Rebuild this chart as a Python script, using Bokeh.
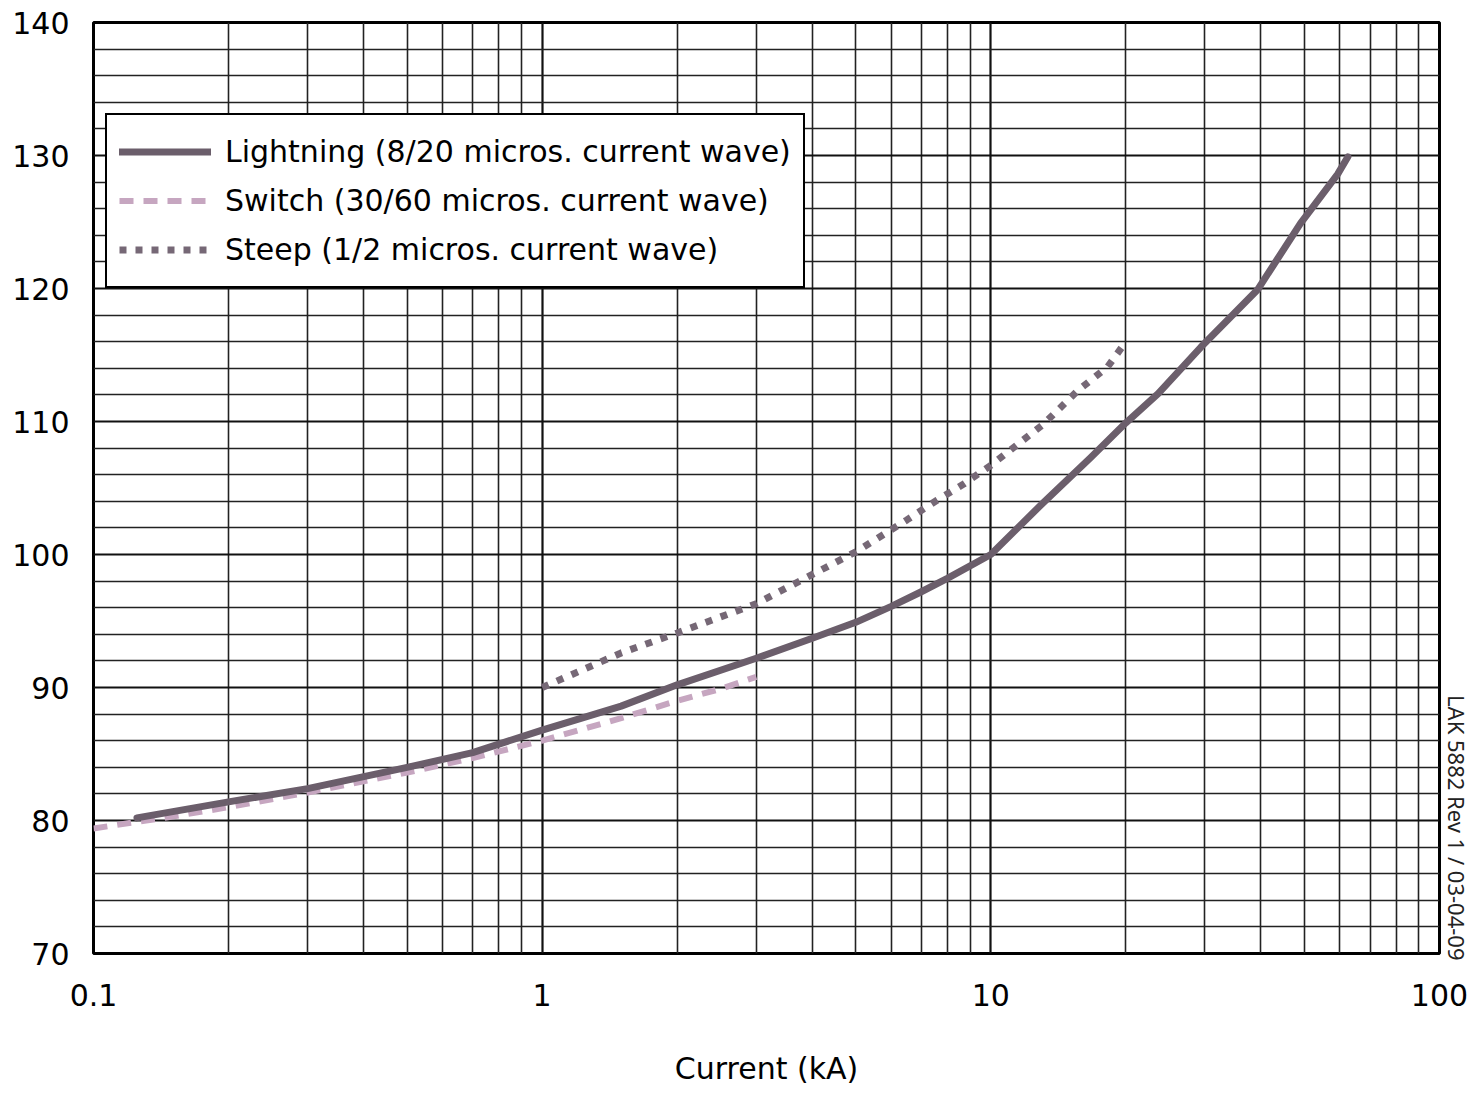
from bokeh.plotting import figure
from bokeh.models import FixedTicker, Legend, LegendItem, Title
from bokeh.embed import file_html
from bokeh.resources import INLINE

# ---- data ----
lightning_x = [0.125, 0.2, 0.3, 0.5, 0.7, 1, 1.5, 2, 3, 4, 5, 6, 7, 8, 10,
               13, 16.7, 20, 23.6, 29.4, 34.8, 39.3, 49, 59.3, 62.5]
lightning_y = [80.2, 81.4, 82.4, 84.0, 85.1, 86.8, 88.6, 90.2, 92.2, 93.7, 94.9, 96.1, 97.2, 98.2, 100.0,
               103.8, 107.3, 109.9, 112.1, 115.6, 118.1, 119.9, 124.9, 128.6, 129.9]

switch_x = [0.1, 0.15, 0.2, 0.3, 0.5, 0.7, 1, 1.5, 2, 2.5, 3]
switch_y = [79.4, 80.3, 81.0, 82.1, 83.6, 84.7, 86.0, 87.7, 89.0, 89.9, 90.8]

steep_x = [1, 1.5, 2, 3, 5, 6.5, 7.6, 8.7, 10, 13.1, 15.6, 18.2, 20]
steep_y = [90.0, 92.6, 94.1, 96.3, 100.2, 102.6, 104.1, 105.3, 106.7, 109.8, 112.3, 114.1, 116.0]

x_ticks = [0.1, 1, 10, 100]
x_tick_labels = ["0.1", "1", "10", "100"]
y_ticks = [70, 80, 90, 100, 110, 120, 130, 140]
y_tick_labels = ["70", "80", "90", "100", "110", "120", "130", "140"]

series_names = ["Lightning (8/20 micros. current wave)",
                "Switch (30/60 micros. current wave)",
                "Steep (1/2 micros. current wave)"]
note_text = "LAK 5882 Rev 1 / 03-04-09"
x_title = "Current (kA)"

FONT = "DejaVu Sans"

x_minor = []
for d in [0.1, 1, 10]:
    x_minor += [d * k for k in range(2, 10)]
y_minor = [v for v in range(70, 141, 2) if v % 10 != 0]

p = figure(frame_width=1346, frame_height=931,
           x_axis_type="log", x_range=(0.1, 100), y_range=(70, 140),
           min_border_left=93, min_border_right=30, min_border_top=22, min_border_bottom=140,
           output_backend="svg", toolbar_location=None,
           background_fill_color="white", border_fill_color="white")

p.outline_line_color = "black"
p.outline_line_width = 3
p.outline_line_alpha = 1.0

p.xaxis.ticker = FixedTicker(ticks=x_ticks, minor_ticks=x_minor)
p.yaxis.ticker = FixedTicker(ticks=y_ticks, minor_ticks=y_minor)
p.xaxis.major_label_overrides = {t: l for t, l in zip(x_ticks, x_tick_labels)}
p.yaxis.major_label_overrides = {t: l for t, l in zip(y_ticks, y_tick_labels)}

for ax in (p.xaxis, p.yaxis):
    ax.axis_line_color = None
    ax.major_tick_line_color = None
    ax.minor_tick_line_color = None
    ax.major_label_text_font = FONT
    ax.major_label_text_color = "black"
    ax.major_label_text_font_size = "30px"

p.xaxis.major_label_standoff = 24
p.yaxis.major_label_standoff = 18

p.xaxis.axis_label = x_title
p.xaxis.axis_label_text_font = FONT
p.xaxis.axis_label_text_font_size = "30px"
p.xaxis.axis_label_text_font_style = "normal"
p.xaxis.axis_label_text_color = "black"
p.xaxis.axis_label_standoff = 42

for g in (p.xgrid, p.ygrid):
    g.grid_line_color = "#111111"
    g.grid_line_width = 2.2
    g.grid_line_alpha = 1.0
    g.minor_grid_line_color = "#222222"
    g.minor_grid_line_width = 1.6
    g.minor_grid_line_alpha = 1.0

# ---- curves ----
r_switch = p.line(switch_x, switch_y, line_color="#c6a6c0", line_width=6,
                  line_dash="14 10", line_cap="butt")
r_steep = p.line(steep_x, steep_y, line_color="#766876", line_width=7,
                 line_dash="7 9", line_cap="butt")
r_light = p.line(lightning_x, lightning_y, line_color="#6b5e6b", line_width=7,
                 line_cap="round", line_join="round")

legend = Legend(items=[LegendItem(label=series_names[0], renderers=[r_light]),
                       LegendItem(label=series_names[1], renderers=[r_switch]),
                       LegendItem(label=series_names[2], renderers=[r_steep])],
                location=(12, 665))
legend.label_text_font = FONT
legend.label_text_font_size = "30px"
legend.label_text_color = "black"
legend.label_height = 49
legend.glyph_height = 49
legend.glyph_width = 92
legend.label_standoff = 14
legend.spacing = 0
legend.padding = 12
legend.margin = 0
legend.border_line_color = "black"
legend.border_line_width = 2.5
legend.border_line_alpha = 1.0
legend.background_fill_color = "white"
legend.background_fill_alpha = 1.0
p.add_layout(legend, "center")

note = Title(text=note_text, align="right", vertical_align="middle", offset=-7,
             text_font="Noto Sans", text_font_size="22px", text_font_style="normal",
             text_color="#222222", standoff=2)
p.add_layout(note, "right")

open("out.html", "w").write(file_html(p, INLINE))
